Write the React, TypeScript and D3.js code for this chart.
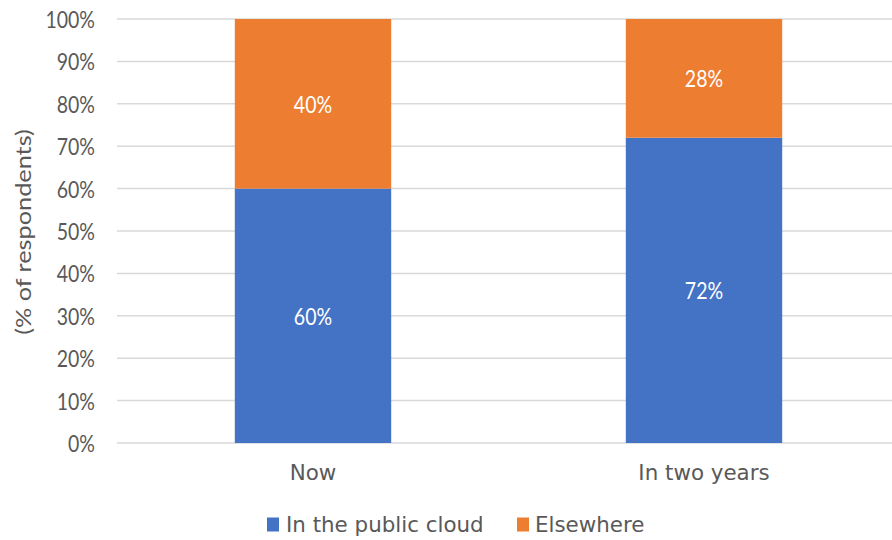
import React from "react";
import * as d3 from "d3";

const categories = ["Now", "In two years"];
const seriesNames = ["In the public cloud", "Elsewhere"];
const publicCloud = [60, 72];
const elsewhere = [40, 28];
const yTicks = [0, 10, 20, 30, 40, 50, 60, 70, 80, 90, 100];
const colors = ["#4472C4", "#ED7D31"];

const W = 892;
const H = 540;
const NUM_FONT = "Lato, 'Open Sans', sans-serif";
const LABEL_FONT = "'DejaVu Sans', Verdana, sans-serif";
const TEXT = "#595959";
// slightly tall numeric glyphs
const SY = 1.15;

export default function App() {
  const x = d3
    .scaleBand<string>()
    .domain(categories)
    .range([117.5, 899.5])
    .paddingInner(0.6)
    .paddingOuter(0.3);
  const y = d3.scaleLinear().domain([0, 100]).range([443, 19]);

  const rows = categories.map((c, i) => ({
    cat: c,
    vals: [publicCloud[i], elsewhere[i]],
  }));
  const stack = d3.stack<any>().keys(["0", "1"]).value((d, k) => d.vals[+k]);
  const layers = stack(rows);

  return (
    <svg width={W} height={H} style={{ display: "block", position: "absolute", left: 0, top: 0 }}>
      <rect width={W} height={H} fill="#fff" />
      {yTicks.map((t) => (
        <g key={t}>
          <line x1={117} x2={W} y1={y(t)} y2={y(t)} stroke="#D9D9D9" strokeWidth={1.5} />
          <text
            transform={`translate(95,${y(t) + 1}) scale(1,${SY})`}
            dy="0.36em"
            textAnchor="end"
            fontFamily={NUM_FONT}
            fontSize={19.5}
            fill={TEXT}
          >
            {t}%
          </text>
        </g>
      ))}
      {layers.map((layer, li) =>
        layer.map((d, i) => {
          const cat = categories[i];
          const x0 = x(cat)!;
          const y0 = y(d[1]);
          const y1 = y(d[0]);
          return (
            <g key={li + "-" + i}>
              <rect x={x0} y={y0} width={x.bandwidth()} height={y1 - y0} fill={colors[li]} />
              <text
                transform={`translate(${x0 + x.bandwidth() / 2},${(y0 + y1) / 2 + 1}) scale(1,${SY})`}
                dy="0.36em"
                textAnchor="middle"
                fontFamily={NUM_FONT}
                fontSize={19.5}
                fill="#fff"
              >
                {rows[i].vals[li]}%
              </text>
            </g>
          );
        })
      )}
      {categories.map((c) => (
        <text
          key={c}
          x={x(c)! + x.bandwidth() / 2}
          y={480}
          textAnchor="middle"
          fontFamily={LABEL_FONT}
          fontSize={21.4}
          fill={TEXT}
        >
          {c}
        </text>
      ))}
      <text
        transform={`translate(23,232) scale(1,${SY}) rotate(-90)`}
        dy="0.35em"
        textAnchor="middle"
        fontFamily={NUM_FONT}
        fontSize={22}
        fill={TEXT}
      >
        (% of respondents)
      </text>
      <g>
        <rect x={267} y={517.5} width={12} height={14} fill={colors[0]} />
        <text x={286} y={532} fontFamily={LABEL_FONT} fontSize={21.4} fill={TEXT}>
          {seriesNames[0]}
        </text>
        <rect x={517} y={517.5} width={12} height={14} fill={colors[1]} />
        <text x={535} y={532} fontFamily={LABEL_FONT} fontSize={21.4} fill={TEXT}>
          {seriesNames[1]}
        </text>
      </g>
    </svg>
  );
}
